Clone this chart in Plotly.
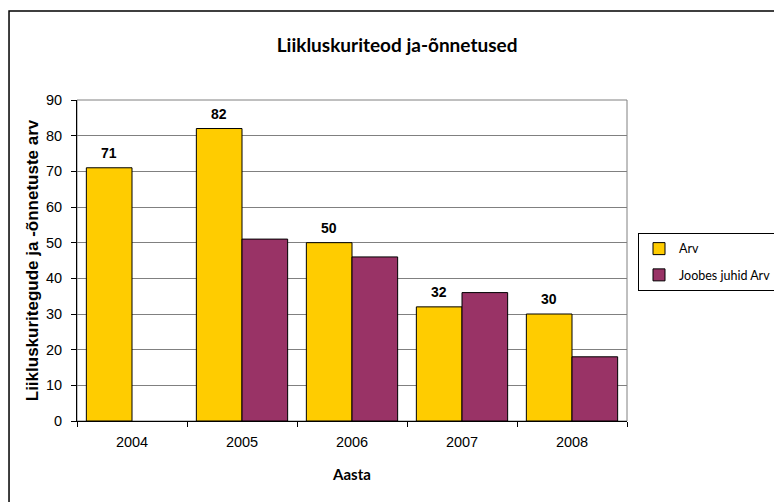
import plotly.graph_objects as go

years = ['2004', '2005', '2006', '2007', '2008']
arv = [71, 82, 50, 32, 30]
joobes = [None, 51, 46, 36, 18]

title_text = 'Liikluskuriteod ja-õnnetused'
y_title = 'Liikluskuritegude ja -õnnetuste arv'
x_title = 'Aasta'

fig = go.Figure()
fig.add_trace(go.Bar(x=years, y=arv, name='Arv', legendgroup='a',
                     marker=dict(color='#FFCC00', line=dict(color='black', width=1))))
fig.add_trace(go.Bar(x=years, y=joobes, name='Joobes juhid Arv', legendgroup='b',
                     marker=dict(color='#993366', line=dict(color='black', width=1))))

# data labels only on the first series (category index positions)
for i, v in enumerate(arv):
    fig.add_annotation(x=i, y=v, xref='x', yref='y', text='<b>%d</b>' % v,
                       showarrow=False, yanchor='bottom', xshift=-23, yshift=5,
                       font=dict(family='Liberation Sans, Arial', size=14, color='black'))

# outer chart border and plot area border
fig.add_shape(type='rect', xref='paper', yref='paper', x0=-0.1236, x1=1.28, y0=-0.26, y1=1.277,
              line=dict(color='black', width=1.5), layer='below')
fig.add_shape(type='rect', xref='paper', yref='paper', x0=0, x1=1, y0=0, y1=1,
              line=dict(color='#808080', width=1), layer='below')

# page has an 8px body margin, so the figure is 774x494
fig.update_layout(
    width=774, height=494,
    margin=dict(l=69, r=155, t=92, b=81, autoexpand=False),
    paper_bgcolor='white', plot_bgcolor='white',
    barmode='group', bargap=0.17, bargroupgap=0,
    title=dict(text='<b>' + title_text + '</b>', xref='paper', x=0.582, xanchor='center',
               y=0.925, yanchor='middle',
               font=dict(family='Lato, Open Sans', size=19, color='black')),
    legend=dict(x=1.02, y=0.5857, xanchor='left', yanchor='top',
                bordercolor='black', borderwidth=1, bgcolor='white',
                font=dict(family='Lato, Open Sans', size=12.5, color='black'),
                traceorder='grouped', tracegroupgap=7, itemwidth=30),
    font=dict(family='Liberation Sans, Arial', size=14, color='black'),
)
fig.update_yaxes(range=[0, 90], dtick=10, ticks='outside', ticklen=5, tickcolor='black',
                 ticklabelstandoff=6,
                 showline=True, linecolor='black', linewidth=1,
                 showgrid=True, gridcolor='#808080', gridwidth=1, zeroline=False,
                 tickfont=dict(family='Liberation Sans, Arial', size=14.5, color='black'),
                 title=dict(text='<b>' + y_title + '</b>', standoff=3,
                            font=dict(family='Liberation Sans, Arial', size=17, color='black')))
fig.update_xaxes(type='category', categoryorder='array', categoryarray=years, range=[-0.5, 4.5],
                 ticks='outside', tickson='boundaries', ticklen=5, tickcolor='black',
                 ticklabelstandoff=8,
                 showline=True, linecolor='black', linewidth=1, showgrid=False,
                 tickfont=dict(family='Liberation Sans, Arial', size=14.5, color='black'),
                 title=dict(text='<b>' + x_title + '</b>', standoff=20,
                            font=dict(family='Lato, Open Sans', size=15, color='black')))

fig.write_html('out.html')
